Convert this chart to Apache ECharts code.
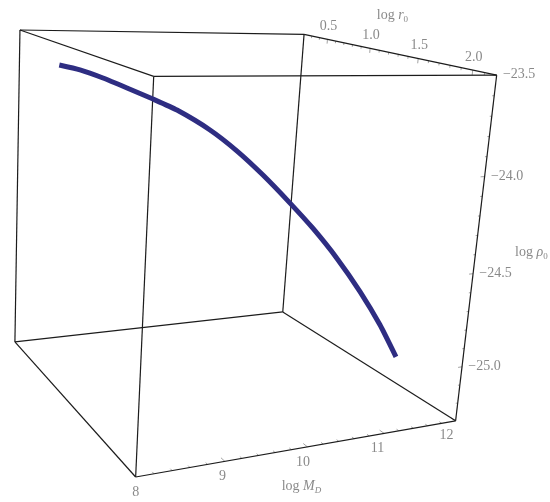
<!DOCTYPE html>
<html><head><meta charset="utf-8"><style>html,body{margin:0;background:#fff}#c{width:550px;height:502px}</style>
<script src="https://cdn.jsdelivr.net/npm/echarts@6/dist/echarts.min.js"></script></head>
<body><div id="c"></div>
<script>
// ---- data ----
const logMD  = [8.00,8.18,8.40,8.62,8.87,9.10,9.43,9.73,10.03,10.37,10.67,11.00,11.35,11.68,12.00];
const logR0  = [0.920,1.005,1.073,1.156,1.231,1.303,1.392,1.444,1.490,1.525,1.554,1.581,1.595,1.601,1.582];
const logRho = [-23.605,-23.619,-23.651,-23.690,-23.736,-23.782,-23.871,-23.973,-24.093,-24.240,-24.377,-24.544,-24.738,-24.941,-25.152];
const mdTicks  = [8,9,10,11,12];
const r0Ticks  = ['0.5','1.0','1.5','2.0'];
const rhoTicks = ['−23.5','−24.0','−24.5','−25.0'];
const mdRange=[8,12], r0Range=[0.2,2.2], rhoRange=[-25.3,-23.5];

// ---- view: camera calibration of the unit cube (x=M_D, y=back, z=up) onto the page ----
const view=[[0,0,0,135.5,477],[1,0,0,455.7,420.7],[0,1,0,15,342],[1,1,0,282.7,312],
            [0,0,1,153.7,76.3],[1,0,1,496.7,75.3],[0,1,1,20,30],[1,1,1,304,34.3]];
function solve(A,b){const n=A.length;A=A.map((r,i)=>[...r,b[i]]);
  for(let i=0;i<n;i++){let p=i;for(let k=i;k<n;k++)if(Math.abs(A[k][i])>Math.abs(A[p][i]))p=k;
    [A[i],A[p]]=[A[p],A[i]];
    for(let k=0;k<n;k++){if(k===i)continue;const f=A[k][i]/A[i][i];for(let j=i;j<=n;j++)A[k][j]-=f*A[i][j];}}
  return A.map((r,i)=>r[n]/r[i]);}
const M=[],B=[];
view.forEach(([x,y,z,u,v])=>{M.push([x,y,z,1,0,0,0,0,-u*x,-u*y,-u*z]);B.push(u);
  M.push([0,0,0,0,x,y,z,1,-v*x,-v*y,-v*z]);B.push(v);});
const I=[...Array(11).keys()];
const P=solve(I.map(i=>I.map(j=>M.reduce((s,r)=>s+r[i]*r[j],0))),I.map(i=>M.reduce((s,r,k)=>s+r[i]*B[k],0)));
const cube=(x,y,z)=>{const w=P[8]*x+P[9]*y+P[10]*z+1;
  return[(P[0]*x+P[1]*y+P[2]*z+P[3])/w,(P[4]*x+P[5]*y+P[6]*z+P[7])/w];};
const nx=m=>(m-mdRange[0])/(mdRange[1]-mdRange[0]);
const ny=r=>(r0Range[1]-r)/(r0Range[1]-r0Range[0]);
const nz=h=>(h-rhoRange[0])/(rhoRange[1]-rhoRange[0]);
const num=s=>parseFloat(String(s).replace('−','-'));

// ---- series ----
const edges=[[[0,0,0],[1,0,0]],[[0,1,0],[1,1,0]],[[0,0,1],[1,0,1]],[[0,1,1],[1,1,1]],
             [[0,0,0],[0,1,0]],[[1,0,0],[1,1,0]],[[0,0,1],[0,1,1]],[[1,0,1],[1,1,1]],
             [[0,0,0],[0,0,1]],[[1,0,0],[1,0,1]],[[0,1,0],[0,1,1]],[[1,1,0],[1,1,1]]];
const line=(data,color,width,z,extra)=>Object.assign({type:'line',data,symbol:'none',silent:true,clip:false,z,
  lineStyle:{color,width,cap:'butt'},connectNulls:false},extra||{});
const series=[];
edges.forEach(e=>series.push(line(e.map(p=>cube(...p)),'#1c1c1c',1.2,3)));

const tickData=[];
const addTick=(a,b)=>{tickData.push(cube(...a),cube(...b),[null,null]);};
for(let i=0;i<=20;i++){const m=8+i*0.2,l=i%5===0?0.022:0.011;addTick([nx(m),0,0],[nx(m),l,0]);}
for(let i=3;i<=21;i++){const r=i/10,l=i%5===0?0.014:0.007;addTick([1,ny(r),1],[1,ny(r),1-l]);}
for(let i=0;i<=17;i++){const h=-23.5-i/10,l=i%5===0?0.014:0.007;addTick([1,0,nz(h)],[1-l,0,nz(h)]);}
series.push(line(tickData,'#8a8a8a',0.8,2));

series.push(line(logMD.map((m,i)=>cube(nx(m),ny(logR0[i]),nz(logRho[i]))),'#2e2d82',5,5,{smooth:0.2}));

const serif='"Liberation Serif","DejaVu Serif",serif';
const labelStyle={show:true,position:'inside',fontFamily:serif,fontSize:14,color:'#6b6b6b',formatter:p=>p.data[2]};
const texts=(data,extra)=>({type:'scatter',data,symbolSize:1,itemStyle:{color:'transparent'},silent:true,clip:false,z:6,
  label:Object.assign({},labelStyle,extra||{})});
series.push(texts(mdTicks.map(m=>{const q=cube(nx(m),0,0);return[q[0]-2.25*(m-8),q[1]+15,String(m)];})));
series.push(texts(r0Ticks.map(t=>{const q=cube(1,ny(num(t)),1);return[q[0]+1,q[1]-13,t];})));
series.push(texts(rhoTicks.map(t=>{const q=cube(1,0,nz(num(t)));return[q[0]+22.5,q[1]-0.5,t];})));
const rich={a:{fontFamily:serif,fontSize:14,color:'#6b6b6b',lineHeight:18},
  i:{fontFamily:serif,fontSize:14,fontStyle:'italic',color:'#6b6b6b',lineHeight:18},
  s:{fontFamily:serif,fontSize:9,color:'#6b6b6b',lineHeight:18,verticalAlign:'bottom',padding:[6,0,0,0]},
  si:{fontFamily:serif,fontSize:9,fontStyle:'italic',color:'#6b6b6b',lineHeight:18,verticalAlign:'bottom',padding:[6,0,0,0]}};
// axis titles sit at a fixed offset from the middle of each labelled edge
const anchor=(q,dx,dy)=>[q[0]+dx,q[1]+dy];
const mdTitle=anchor(cube(nx(10),0,0),-6,39);
const r0Title=anchor(cube(1,ny(1.25),1),-1,-38);
const rhoTitle=anchor(cube(1,0,nz(-24.4)),56,-2);
series.push(texts([[...mdTitle,'{a|log }{i|M}{si|D}'],[...r0Title,'{a|log }{i|r}{s|0}'],[...rhoTitle,'{a|log }{i|ρ}{s|0}']],{rich}));

const chart=echarts.init(document.getElementById('c'),null,{renderer:'canvas'});
chart.setOption({animation:false,backgroundColor:'#ffffff',
  grid:{left:0,right:0,top:0,bottom:0},
  xAxis:{type:'value',min:0,max:550,show:false},
  yAxis:{type:'value',min:0,max:502,inverse:true,show:false},
  series});
</script></body></html>
